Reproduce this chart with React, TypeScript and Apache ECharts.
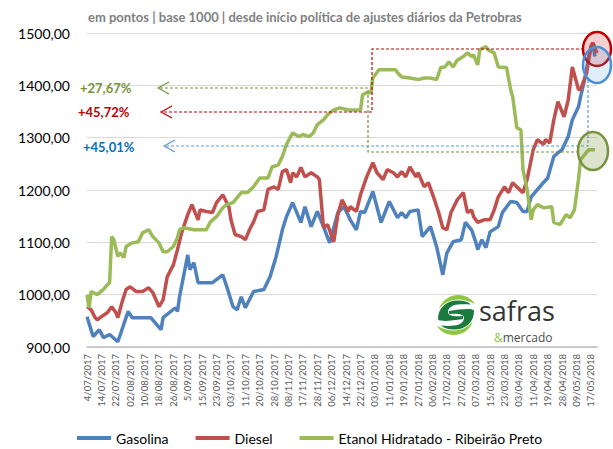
import React, { useEffect, useRef } from 'react';
import * as echarts from 'echarts';

// ---------- data ----------
const titleText = 'em pontos | base 1000 | desde início política de ajustes diários da Petrobras';

// x-axis tick labels: one every 7 trading days
const dateLabels = [
  '4/07/2017', '14/07/2017', '22/07/2017', '02/08/2017', '10/08/2017', '18/08/2017',
  '26/08/2017', '5/09/2017', '15/09/2017', '23/09/2017', '03/10/2017', '11/10/2017',
  '20/10/2017', '28/10/2017', '08/11/2017', '17/11/2017', '28/11/2017', '06/12/2017',
  '14/12/2017', '22/12/2017', '03/01/2018', '11/01/2018', '19/01/2018', '27/01/2018',
  '06/02/2018', '17/02/2018', '27/02/2018', '07/03/2018', '15/03/2018', '23/03/2018',
  '03/04/2018', '11/04/2018', '19/04/2018', '28/04/2018', '09/05/2018', '17/05/2018',
];

const seriesNames = ['Gasolina', 'Diesel', 'Etanol Hidratado - Ribeirão Preto'];

// [trading-day index, index points]
const gasolinaData = [
  [0, 958], [3, 920], [6, 933], [8, 918], [11, 924], [15, 910], [17, 933], [20, 968], [22, 956],
  [26, 956], [31, 956], [36, 933], [37, 956], [43, 975], [44, 968], [45, 996], [49, 1076], [50, 1048],
  [52, 1061], [54, 1023], [57, 1023], [61, 1023], [66, 1038], [68, 1015], [71, 977], [73, 971],
  [75, 996], [77, 975], [81, 1006], [86, 1010], [89, 1034], [92, 1073], [95, 1124], [97, 1149],
  [100, 1176], [104, 1138], [106, 1168], [109, 1130], [112, 1159], [115, 1130], [118, 1099],
  [122, 1157], [125, 1168], [128, 1143], [131, 1124], [133, 1159], [135, 1157], [139, 1197],
  [143, 1138], [147, 1178], [151, 1147], [153, 1157], [155, 1147], [157, 1159], [161, 1162],
  [163, 1111], [167, 1130], [170, 1092], [173, 1038], [175, 1080], [178, 1101], [182, 1105],
  [184, 1138], [187, 1124], [189, 1101], [190, 1086], [192, 1105], [194, 1090], [196, 1120],
  [200, 1130], [202, 1157], [206, 1178], [209, 1176], [212, 1159], [214, 1159], [216, 1187],
  [221, 1210], [224, 1223], [227, 1264], [229, 1271], [231, 1277], [234, 1302], [236, 1334],
  [239, 1359], [240, 1378], [242, 1411], [244, 1455], [246, 1481], [247, 1455],
];

const dieselData = [
  [0, 977], [2, 971], [4, 956], [5, 952], [7, 958], [10, 966], [12, 977], [14, 966], [15, 956],
  [17, 985], [19, 1010], [21, 1015], [24, 1006], [27, 1006], [30, 1013], [32, 1004], [35, 977],
  [37, 990], [39, 1034], [42, 1057], [44, 1086], [46, 1118], [49, 1153], [51, 1172], [54, 1143],
  [55, 1162], [58, 1159], [61, 1157], [63, 1176], [66, 1191], [69, 1168], [70, 1143], [72, 1115],
  [75, 1111], [77, 1105], [79, 1124], [81, 1139], [83, 1159], [86, 1162], [88, 1201], [91, 1206],
  [93, 1201], [95, 1235], [97, 1239], [99, 1214], [100, 1233], [102, 1225], [104, 1243], [106, 1225],
  [109, 1233], [112, 1225], [113, 1220], [115, 1128], [117, 1134], [120, 1101], [122, 1153],
  [124, 1181], [127, 1159], [128, 1168], [131, 1159], [133, 1191], [136, 1225], [139, 1252],
  [141, 1233], [144, 1220], [146, 1239], [149, 1233], [151, 1225], [153, 1235], [155, 1225],
  [157, 1244], [160, 1225], [161, 1233], [164, 1206], [166, 1214], [169, 1181], [171, 1157],
  [173, 1128], [175, 1124], [177, 1157], [180, 1181], [183, 1195], [185, 1157], [187, 1162],
  [188, 1149], [190, 1138], [193, 1143], [196, 1143], [198, 1162], [200, 1187], [203, 1206],
  [205, 1195], [207, 1214], [209, 1206], [212, 1195], [214, 1220], [217, 1277], [219, 1296],
  [222, 1287], [223, 1296], [225, 1290], [227, 1334], [229, 1369], [230, 1359], [232, 1340],
  [234, 1372], [236, 1435], [239, 1392], [240, 1392], [243, 1424], [245, 1474], [246, 1481],
  [248, 1462],
];

const etanolData = [
  [0, 1000], [1, 975], [2, 1006], [5, 1000], [8, 1010], [10, 1019], [11, 1023], [12, 1111],
  [13, 1105], [15, 1073], [16, 1080], [18, 1071], [19, 1092], [22, 1099], [25, 1101], [27, 1118],
  [30, 1124], [32, 1111], [35, 1099], [37, 1082], [39, 1082], [42, 1092], [44, 1109], [45, 1124],
  [47, 1128], [52, 1124], [58, 1124], [60, 1139], [63, 1149], [66, 1166], [68, 1172], [71, 1176],
  [75, 1195], [78, 1195], [81, 1206], [84, 1223], [88, 1223], [90, 1244], [93, 1248], [95, 1264],
  [97, 1287], [99, 1302], [100, 1309], [103, 1302], [105, 1306], [108, 1302], [110, 1309],
  [112, 1325], [115, 1334], [117, 1344], [120, 1353], [123, 1357], [127, 1353], [133, 1353],
  [134, 1382], [136, 1386], [138, 1386], [139, 1414], [142, 1430], [150, 1430], [151, 1424],
  [153, 1416], [157, 1414], [161, 1411], [164, 1414], [167, 1414], [170, 1411], [172, 1434],
  [174, 1435], [176, 1445], [178, 1435], [180, 1448], [183, 1455], [185, 1462], [187, 1455],
  [188, 1458], [190, 1439], [191, 1468], [194, 1474], [195, 1468], [198, 1462], [200, 1435],
  [204, 1434], [206, 1392], [207, 1378], [209, 1319], [211, 1315], [212, 1239], [214, 1201],
  [216, 1143], [217, 1162], [219, 1172], [222, 1166], [226, 1168], [227, 1138], [230, 1134],
  [233, 1153], [235, 1147], [237, 1162], [239, 1220], [240, 1258], [244, 1277], [247, 1277],
];

const changeLabels = ['+27,67%', '+45,72%', '+45,01%'];

// ---------- logo shapes ----------
echarts.graphic.registerShape(
  'safrasDark',
  echarts.graphic.extendPath(
    'M1,24 C1,13 9,5.5 21,5.5 C27,5.5 31,7 34,9.5 C29,9 25,9 21,9.5 C15,10 11,13 11,17 C11,21 17,22 26,21 L26,24 C14,26 1,27 1,24 Z',
    {}
  )
);
echarts.graphic.registerShape(
  'safrasLime',
  echarts.graphic.extendPath(
    'M2,14 C5,5 13,0 21,0 C29,0 35,4 38,9 C32,6 27,4.5 21,4.5 C13,4.5 7,8 2,14 Z',
    {}
  )
);

const FONT = 'Lato';

function dashed(points: number[][], color: string) {
  return {
    type: 'polyline',
    z: 50,
    shape: { points },
    style: { stroke: color, lineWidth: 1.2, lineDash: [3, 2], fill: null },
  };
}
function chevron(x: number, y: number, color: string) {
  return {
    type: 'polyline',
    z: 50,
    shape: { points: [[x + 11, y - 6], [x, y], [x + 11, y + 6]] },
    style: { stroke: color, lineWidth: 1.2, fill: null },
  };
}
function ellipse(cx: number, cy: number, rx: number, ry: number, stroke: string, fill: string) {
  return {
    type: 'ellipse',
    z: 60,
    shape: { cx, cy, rx, ry },
    style: { stroke, lineWidth: 2.5, fill },
  };
}
function label(text: string, x: number, y: number, color: string) {
  return {
    type: 'text',
    z: 60,
    x,
    y,
    style: {
      text,
      fill: color,
      fontSize: 13,
      fontWeight: 'bold',
      fontFamily: FONT,
      verticalAlign: 'middle',
    },
  };
}

export default function App() {
  const ref = useRef<HTMLDivElement>(null);

  useEffect(() => {
    if (!ref.current) return;
    const chart = echarts.init(ref.current, undefined, { renderer: 'svg' });

    const option: any = {
      animation: false,
      backgroundColor: '#ffffff',
      textStyle: { fontFamily: FONT },
      title: {
        text: titleText,
        left: 88,
        top: 10,
        padding: 0,
        textStyle: { fontSize: 13, fontWeight: 'bold', color: '#7F7F7F', fontFamily: FONT },
      },
      grid: { left: 87, right: 16, top: 33, bottom: 102 },
      legend: {
        data: seriesNames,
        left: 72,
        top: 426,
        icon: 'rect',
        itemWidth: 34,
        itemHeight: 4,
        itemGap: 27,
        selectedMode: false,
        textStyle: { fontSize: 14, color: '#000000', fontFamily: FONT },
      },
      xAxis: {
        type: 'value',
        min: 0,
        max: 248,
        interval: 7,
        axisLine: { lineStyle: { color: '#BFBFBF', width: 1.5 } },
        axisTick: { show: false },
        splitLine: { show: false },
        axisLabel: {
          rotate: 90,
          fontSize: 9.5,
          color: '#595959',
          margin: 7,
          fontFamily: FONT,
          formatter: (v: number) => {
            if (v % 7 !== 0) return '';
            const i = v / 7;
            return dateLabels[i] ?? '';
          },
        },
      },
      yAxis: {
        type: 'value',
        min: 900,
        max: 1500,
        interval: 100,
        axisLine: { show: false },
        axisTick: { show: false },
        splitLine: { lineStyle: { color: '#D9D9D9', width: 1 } },
        axisLabel: {
          fontSize: 14,
          color: '#000000',
          margin: 17,
          fontFamily: FONT,
          formatter: (v: number) => v.toFixed(2).replace('.', ','),
        },
      },
      series: [
        {
          name: seriesNames[0],
          type: 'line',
          data: gasolinaData,
          showSymbol: false,
          color: '#4F81BD',
          lineStyle: { width: 3.5, color: '#4F81BD' },
        },
        {
          name: seriesNames[1],
          type: 'line',
          data: dieselData,
          showSymbol: false,
          color: '#C0504D',
          lineStyle: { width: 3.5, color: '#C0504D' },
        },
        {
          name: seriesNames[2],
          type: 'line',
          data: etanolData,
          showSymbol: false,
          color: '#9BBB59',
          lineStyle: { width: 3.5, color: '#9BBB59' },
        },
      ],
      graphic: [
        // green annotation
        dashed([[579, 152], [368, 152], [368, 88], [158, 88]], '#77933C'),
        chevron(158, 88, '#77933C'),
        // red annotation
        dashed([[584, 49], [372, 49], [372, 112], [161, 112]], '#C00000'),
        chevron(161, 112, '#C00000'),
        // blue annotation
        dashed([[588, 80], [588, 146], [164, 146]], '#5B9BD5'),
        chevron(164, 146, '#5B9BD5'),
        ellipse(597, 49, 14, 17, '#C00000', 'rgba(192,0,0,0.18)'),
        ellipse(597, 65, 14, 18, '#4A90D9', 'rgba(91,155,213,0.18)'),
        ellipse(593, 151, 15, 19, '#77933C', 'rgba(119,147,60,0.25)'),
        label(changeLabels[0], 80, 88, '#77933C'),
        label(changeLabels[1], 78, 112, '#C00000'),
        label(changeLabels[2], 83, 147, '#0070C0'),
        // logo
        { type: 'safrasLime', x: 437, y: 295, z: 40, style: { fill: '#8DC63F' } },
        { type: 'safrasLime', x: 437, y: 295, z: 40, rotation: Math.PI, originX: 19, originY: 20, style: { fill: '#8DC63F' } },
        { type: 'safrasDark', x: 437, y: 295, z: 41, style: { fill: '#1B7A3E' } },
        { type: 'safrasDark', x: 437, y: 295, z: 41, rotation: Math.PI, originX: 19, originY: 20, style: { fill: '#1B7A3E' } },
        {
          type: 'text',
          z: 40,
          x: 479,
          y: 310,
          style: {
            text: 'safras',
            fill: '#333333',
            fontSize: 27,
            lineHeight: 20,
            fontFamily: 'Open Sans',
            verticalAlign: 'middle',
          },
        },
        {
          type: 'text',
          z: 40,
          x: 494,
          y: 337,
          style: {
            text: '{a|&}{b|mercado}',
            verticalAlign: 'middle',
            rich: {
              a: { fill: '#8DC63F', fontSize: 12, lineHeight: 12, fontFamily: 'Open Sans' },
              b: { fill: '#4D4D4D', fontSize: 12, lineHeight: 12, fontFamily: 'Open Sans' },
            },
          },
        },
      ],
    };

    chart.setOption(option);
    return () => chart.dispose();
  }, []);

  return (
    <div
      ref={ref}
      style={{ position: 'fixed', left: 0, top: 0, width: 613, height: 449, background: '#fff' }}
    />
  );
}
